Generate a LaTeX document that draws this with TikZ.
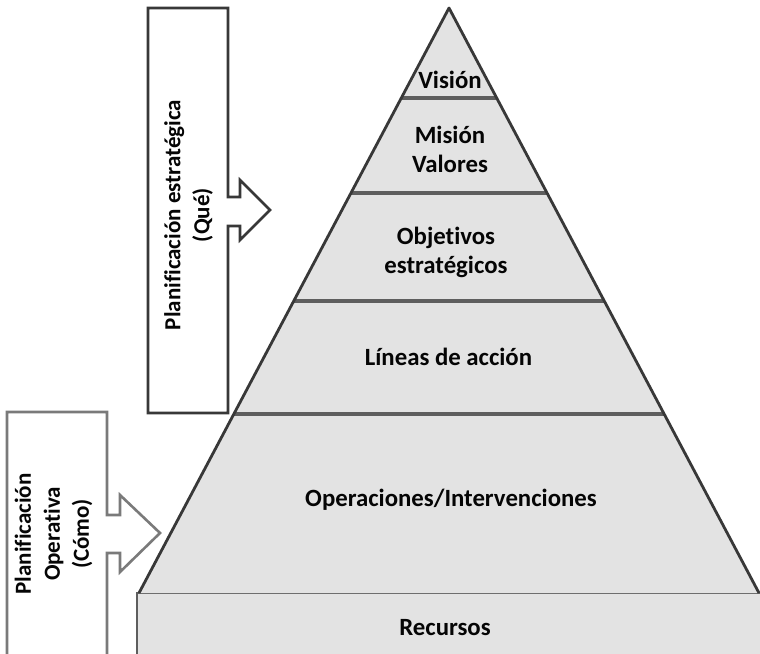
\documentclass[tikz,border=0pt]{standalone}
\usepackage{fontspec}
\setmainfont{Carlito}[Ligatures=NoCommon]
\usetikzlibrary{calc}
\definecolor{layerfill}{HTML}{E3E3E3}
\definecolor{edgedark}{HTML}{383838}
\definecolor{divider}{HTML}{5E5E5E}
\definecolor{opedge}{HTML}{7A7A7A}
\definecolor{inktext}{HTML}{050505}
\begin{document}
\begin{tikzpicture}[x=1pt,y=-1pt,
  lbl/.style={font=\fontsize{24.8}{29}\selectfont\bfseries, text=inktext, align=center, inner sep=0pt},
  sidelbl/.style={font=\fontsize{23}{29}\selectfont\bfseries, text=inktext, align=center, inner sep=0pt, rotate=90},
  divline/.style={draw=divider, line width=4.2pt},
  pyredge/.style={draw=edgedark, line width=2.8pt, line join=round},
  framebox/.style={fill=white, line width=2.6pt, line join=miter}
]
\useasboundingbox (0,0) rectangle (760,653);

% pyramid corners
\coordinate (apex) at (449,8);
\coordinate (bl) at (139,593);
\coordinate (br) at (759,593);

% layer boundaries along both sides
\foreach \n/\t in {a/0.1538, b/0.3162, c/0.5009, d/0.6940}{
  \coordinate (L\n) at ($(apex)!\t!(bl)$);
  \coordinate (R\n) at ($(apex)!\t!(br)$);
}

% base block
\fill[layerfill] (137,593) rectangle (760,670);
\draw[draw=divider, line width=2.6pt] (137,670) -- (137,593) -- (760,593);

% triangle body, dividers, outline
\fill[layerfill] (apex) -- (bl) -- (br) -- cycle;
\foreach \n in {a,b,c,d}{ \draw[divline] (L\n) -- (R\n); }
\draw[pyredge] (bl) -- (apex) -- (br);

% layer labels
\node[lbl] (vision) at (450,80) {Visión};
\node[lbl] (mision) at (450,149) {Misión\\Valores};
\node[lbl] (objetivos) at (446,252) {Objetivos\\estratégicos};
\node[lbl] (lineas) at (448.5,357) {Líneas de acción};
\node[lbl] (operaciones) at (451,500) {Operaciones/Intervenciones};
\node[lbl] (recursos) at (445,628) {Recursos};

% strategic planning frame with its arrow
\draw[framebox, draw=edgedark]
  (148,8) -- (228,8) -- (228,197) -- (240,197) -- (240,180) -- (270,210)
  -- (240,240) -- (240,226) -- (228,226) -- (228,413) -- (148,413) -- cycle;
\node[sidelbl] (estrategica) at (188.5,215) {Planificación estratégica\\(Qué)};

% operational planning frame with its arrow
\draw[framebox, draw=opedge]
  (7,412) -- (107,412) -- (107,515) -- (120,515) -- (120,495) -- (160,533)
  -- (120,572) -- (120,553) -- (107,553) -- (107,680) -- (7,680) -- cycle;
\node[sidelbl] (operativa) at (53.5,534) {Planificación\\Operativa\\(Cómo)};
\end{tikzpicture}
\end{document}
